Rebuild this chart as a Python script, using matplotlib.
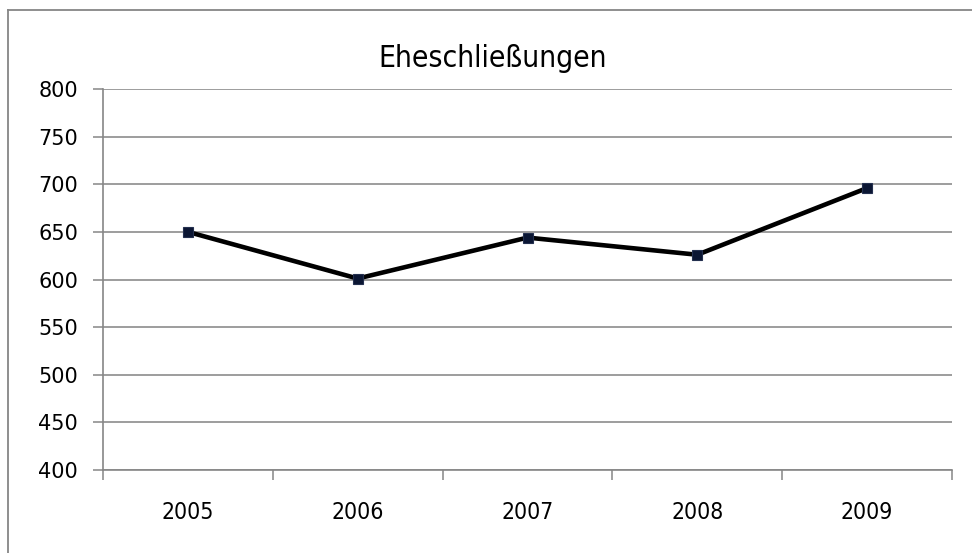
import matplotlib
matplotlib.use("Agg")
import matplotlib.pyplot as plt
from matplotlib.lines import Line2D
from matplotlib import font_manager

years = ["2005", "2006", "2007", "2008", "2009"]
values = [650, 601, 644, 626, 696]
yticks = [400, 450, 500, 550, 600, 650, 700, 750, 800]
title = "Eheschließungen"

names = {f.name for f in font_manager.fontManager.ttflist}
if "Liberation Sans Narrow" in names:
    fam, stretch = "Liberation Sans Narrow", "normal"
else:
    fam, stretch = "DejaVu Sans", "condensed"
plt.rcParams["font.family"] = [fam, "DejaVu Sans"]
plt.rcParams["font.stretch"] = stretch

W, H = 972, 553
fig = plt.figure(figsize=(W / 100, H / 100), dpi=100)
# outer chart frame (only top and left edges visible)
fig.lines.append(Line2D([8 / W, 1], [1 - 10 / H, 1 - 10 / H], transform=fig.transFigure,
                        color="#868686", linewidth=1.3))
fig.lines.append(Line2D([8 / W, 8 / W], [0, 1 - 10 / H], transform=fig.transFigure,
                        color="#868686", linewidth=1.3))

ax = fig.add_axes([103 / W, 1 - 470 / H, (952 - 103) / W, (470 - 89) / H])
x = list(range(len(years)))
ax.plot(x, values, color="black", linewidth=3.3, marker="s", markersize=7.5,
        markerfacecolor="#0b1633", markeredgecolor="#24304f", markeredgewidth=0.8, zorder=3)

ax.set_xlim(-0.5, len(years) - 0.5)
ax.set_ylim(400, 800)
ax.set_yticks(yticks)
ax.set_yticklabels([str(v) for v in yticks], fontsize=15, fontstretch="normal",
                   family="DejaVu Sans")
ax.set_xticks(x)
ax.set_xticklabels(years, fontsize=16.5)
ax.set_xticks([i - 0.5 for i in range(len(years) + 1)], minor=True)

ax.tick_params(axis="x", which="major", length=0, pad=22)
ax.tick_params(axis="x", which="minor", length=7, color="#868686", direction="out", width=1.1)
ax.tick_params(axis="y", length=7, color="#868686", direction="out", pad=11, width=1.1)

ax.grid(axis="y", color="#8c8c8c", linewidth=1.2)
ax.set_axisbelow(True)
for s in ["top", "right"]:
    ax.spines[s].set_visible(False)
for s in ["left", "bottom"]:
    ax.spines[s].set_color("#868686")
    ax.spines[s].set_linewidth(1.2)

fig.text(493 / W, 1 - 67 / H, title, ha="center", va="baseline", fontsize=21.5)

fig.savefig("out.png", dpi=100)
